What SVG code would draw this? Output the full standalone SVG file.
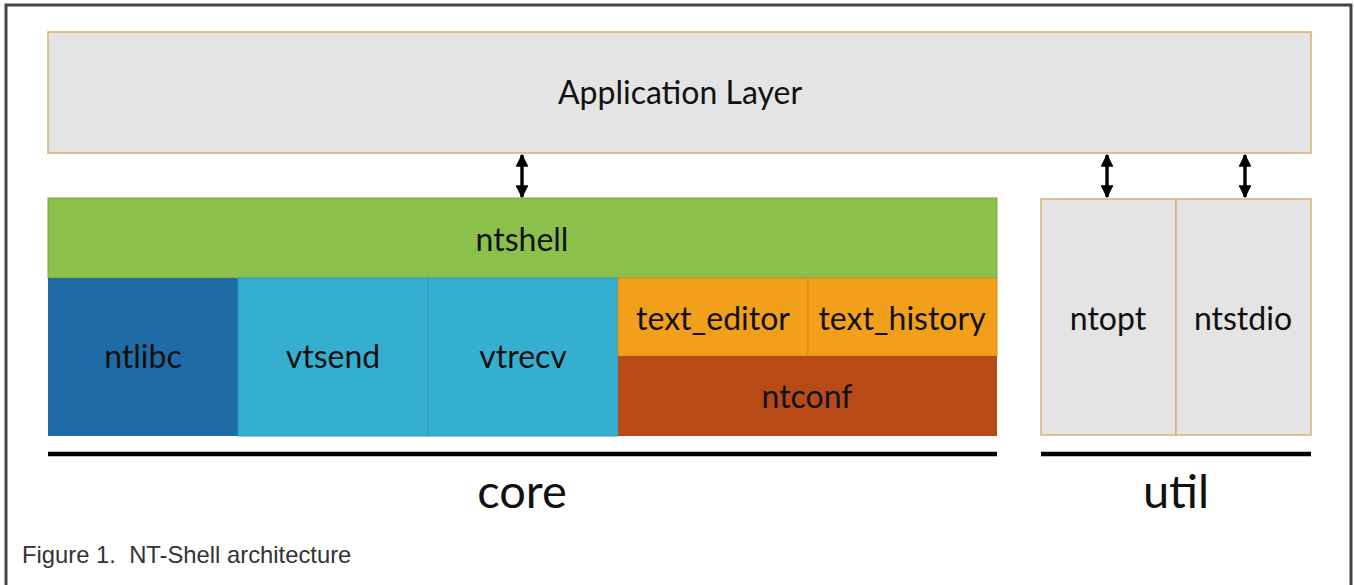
<svg xmlns="http://www.w3.org/2000/svg" width="1354" height="585" viewBox="0 0 1354 585">
<style>
.lbl{font-family:Lato,"Open Sans",sans-serif;font-size:32px;fill:#111;text-anchor:middle}
.big{font-family:Lato,"Open Sans",sans-serif;font-size:47px;fill:#111;text-anchor:middle}
.gray{fill:#e4e4e4;stroke:#d8b07a;stroke-width:1.5}
.cap{font-family:"Liberation Sans",Arial,sans-serif;font-size:23.8px;fill:#333;white-space:pre}
</style>
<defs>
<marker id="ah" viewBox="0 0 10 10" refX="9" refY="5" markerWidth="3.8" markerHeight="3.8" orient="auto-start-reverse" markerUnits="strokeWidth">
<path d="M0,0 L10,5 L0,10 z" fill="#000"/>
</marker>
</defs>
<rect x="0" y="0" width="1354" height="585" fill="#fff"/>
<path d="M6,600 V5 H1351 V600" fill="none" stroke="#444" stroke-width="3"/>
<g id="app"><rect class="gray" x="48" y="32" width="1263" height="121"/><text class="lbl" x="680" y="104">Application Layer</text></g>
<g id="ntshell"><rect x="48" y="198" width="949" height="80" fill="#8bc14a" stroke="#7aa843" stroke-width="1"/><text class="lbl" x="522" y="251">ntshell</text></g>
<g id="ntlibc"><rect x="48" y="278" width="190" height="158" fill="#1f6ba6"/><text class="lbl" x="143" y="368">ntlibc</text></g>
<g id="vtsend"><rect x="238" y="278" width="190" height="158" fill="#35afd0" stroke="#2e9cbb" stroke-width="1"/><text class="lbl" x="333" y="368">vtsend</text></g>
<g id="vtrecv"><rect x="428" y="278" width="190" height="158" fill="#35afd0" stroke="#2e9cbb" stroke-width="1"/><text class="lbl" x="523" y="368">vtrecv</text></g>
<g id="text_editor"><rect x="618" y="278" width="190" height="78" fill="#f29f1c" stroke="#d98e18" stroke-width="1"/><text class="lbl" x="713" y="330">text_editor</text></g>
<g id="text_history"><rect x="808" y="278" width="189" height="78" fill="#f29f1c" stroke="#d98e18" stroke-width="1"/><text class="lbl" x="902" y="330">text_history</text></g>
<g id="ntconf"><rect x="618" y="356" width="379" height="80" fill="#b84a17"/><text class="lbl" x="807" y="408">ntconf</text></g>
<g id="ntopt"><rect class="gray" x="1041" y="199" width="135" height="236"/><text class="lbl" x="1108" y="330">ntopt</text></g>
<g id="ntstdio"><rect class="gray" x="1176" y="199" width="135" height="236"/><text class="lbl" x="1243" y="330">ntstdio</text></g>
<g id="connectors" stroke="#000" stroke-width="3.4" fill="none">
<line x1="522" y1="155" x2="522" y2="197" marker-start="url(#ah)" marker-end="url(#ah)"/>
<line x1="1107" y1="155" x2="1107" y2="197" marker-start="url(#ah)" marker-end="url(#ah)"/>
<line x1="1245" y1="155" x2="1245" y2="197" marker-start="url(#ah)" marker-end="url(#ah)"/>
</g>
<g id="groups">
<line x1="48" y1="454" x2="997" y2="454" stroke="#000" stroke-width="4.5"/>
<line x1="1041" y1="454" x2="1311" y2="454" stroke="#000" stroke-width="4.5"/>
<text class="big" x="522" y="508">core</text>
<text class="big" x="1176" y="508">util</text>
</g>
<text class="cap" x="22" y="563">Figure 1.  NT-Shell architecture</text>
</svg>
